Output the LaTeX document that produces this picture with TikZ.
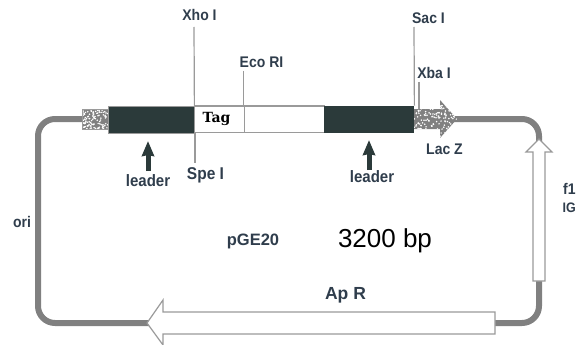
\documentclass[tikz,border=0pt]{standalone}
\usepackage{fontspec}
\usepackage{graphicx}
\setmainfont{Liberation Sans}
\newfontfamily\tagfont{DejaVu Serif}
\usetikzlibrary{arrows.meta}
\definecolor{darkbox}{HTML}{2B3A3A}
\definecolor{labelc}{HTML}{2F3D4C}
\definecolor{wire}{HTML}{808080}
\definecolor{edge}{HTML}{9A9A9A}
\newcommand{\tall}[1]{\scalebox{1}[1.1]{#1}}
\tikzset{
  x=1pt,y=-1pt,
  lab/.style={font=\fontsize{14}{14}\selectfont\bfseries,text=labelc,inner sep=0pt,anchor=center},
  bigger/.style={font=\fontsize{#1}{#1}\selectfont\bfseries},
  backbone/.style={draw=wire,line width=6pt,rounded corners=17pt},
  box/.style={draw=edge,line width=1pt,inner sep=0pt},
  darkb/.style={fill=darkbox,draw=edge,line width=.8pt,inner sep=0pt},
  site/.style={draw=edge,line width=1.2pt},
  hollow/.style={draw=edge,fill=white,line width=1.2pt,line join=miter},
  leadarrow/.style={draw=darkbox,line width=5pt,-{Stealth[length=15pt,width=12pt,inset=1pt]}},
}
\begin{document}
\begin{tikzpicture}
\useasboundingbox (0,0) rectangle (576,345);
\clip (0,0) rectangle (576,345);
\fill[white] (0,0) rectangle (576,345);
\pgfmathsetseed{7}
% backbone
\coordinate (stubL) at (84,119);
\coordinate (stubR) at (450,119);
\coordinate (fTop) at (539,142);
\coordinate (fBot) at (539,280);
\coordinate (apR) at (495,323);
\coordinate (apL) at (150,323);
\draw[backbone] (stubR) -- (539,119) -- (fTop);
\draw[backbone] (fBot) -- (539,323) -- (apR);
\draw[backbone] (apL) -- (38,323) -- (38,119) -- (stubL);
% stippled parts
\begin{scope}
\clip (82.5,109) rectangle (108,129);
\fill[wire] (82.5,109) rectangle (108,129);
\foreach \i in {1,...,110}{
  \pgfmathsetmacro{\px}{82.5+25.5*rnd}
  \pgfmathsetmacro{\py}{109+20*rnd}
  \fill[white] (\px,\py) circle[radius=.85pt];
}
\end{scope}
\draw[edge,line width=.6pt] (82.5,109) rectangle (108,129);
\begin{scope}
\clip (414,109) -- (440,109) -- (440,100) -- (457,119) -- (440,138) -- (440,129) -- (414,129) -- cycle;
\fill[wire] (414,100) rectangle (457,138);
\foreach \i in {1,...,210}{
  \pgfmathsetmacro{\px}{414+43*rnd}
  \pgfmathsetmacro{\py}{100+38*rnd}
  \fill[white] (\px,\py) circle[radius=.85pt];
}
\end{scope}
% boxes
\node[darkb,minimum width=86pt,minimum height=27pt] (lead1) at (151,119.5) {};
\node[box,minimum width=50pt,minimum height=26pt,font=\tagfont\bfseries\fontsize{14}{14}\selectfont,text=black] (tag) at (219,119) {\hspace*{-5pt}\raisebox{-2pt}{Tag}};
\node[box,minimum width=80pt,minimum height=26pt] (mid) at (284,119) {};
\node[darkb,draw=none,minimum width=90pt,minimum height=27pt] (lead2) at (369,119.5) {};
% hollow arrows
\draw[hollow] (495,312) -- (163,312) -- (163,300) -- (147,323) -- (163,345) -- (163,334) -- (495,334) -- cycle;
\draw[hollow] (533,281) -- (533,152) -- (526,152) -- (539,139) -- (552,152) -- (545,152) -- (545,281) -- cycle;
% labels
\node[lab] (xho) at (199.5,15) {\tall{Xho I}};
\node[lab] (eco) at (261.5,62) {\tall{Eco RI}};
\node[lab,bigger=15.5] (spe) at (205.5,175) {\tall{Spe I}};
\node[lab,bigger=15] (l1) at (148,181) {\tall{leader}};
\node[lab] (sac) at (428.5,18) {\tall{Sac I}};
\node[lab] (xba) at (434,73) {\tall{Xba I}};
\node[lab] (lac) at (444.5,149) {\tall{Lac Z}};
\node[lab,bigger=15] (l2) at (372,177) {\tall{leader}};
\node[lab,anchor=west] (f) at (563,189) {\tall{f1}};
\node[lab,bigger=12.5,anchor=west] (ig) at (562.5,208) {\tall{IG}};
\node[lab] (ori) at (22,222) {\tall{ori}};
\node[lab,bigger=16.5] (pge) at (253,241) {pGE20};
\node[inner sep=0pt,font=\fontsize{26}{26}\selectfont,text=black] (bp) at (385,240.5) {3200 bp};
\node[lab,bigger=17.5] (ap) at (345.5,295) {Ap R};
% site lines
\draw[site] (194,27) -- (lead1.north east);
\draw[site] (195,133) -- (195,163);
\draw[site] (243.5,71) -- (243.5,106);
\draw[site] (414,27) -- (lead2.north east);
\draw[site] (419,82) -- (419,109);
% leader arrows
\coordinate (a1) at (148,171);
\coordinate (a2) at (369,170);
\draw[leadarrow] (a1) -- (148,141);
\draw[leadarrow] (a2) -- (369,140);
\end{tikzpicture}
\end{document}
